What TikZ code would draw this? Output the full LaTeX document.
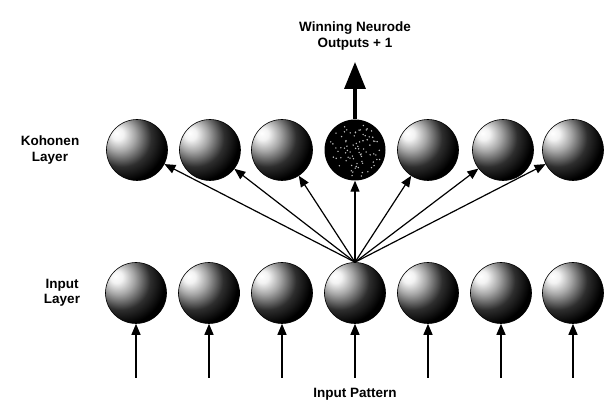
\documentclass[tikz,border=0pt]{standalone}
\usepackage{fontspec}
\setmainfont{Liberation Sans}
\usetikzlibrary{arrows.meta}
\pgfdeclareradialshading{spherefill}{\pgfpoint{-17bp}{14bp}}{color(0bp)=(white); color(5bp)=(white!95!black); color(13bp)=(black!35); color(24bp)=(black!82); color(34bp)=(black); color(90bp)=(black)}
\tikzset{
  neuro/.style={circle, minimum size=61pt, inner sep=0pt, shading=spherefill, draw=black, line width=0.6pt},
  winner/.style={circle, minimum size=61pt, inner sep=0pt, fill=black},
  lbl/.style={font=\fontsize{13.5}{15.5}\selectfont\bfseries, align=center},
  conn/.style={line width=1.2pt, -{Triangle[length=11pt,width=9pt]}},
  outarr/.style={line width=3.4pt, -{Triangle[length=27pt,width=21pt]}}
}
\begin{document}
\begin{tikzpicture}[x=1pt,y=1pt]
\useasboundingbox (0,0) rectangle (605,406);
% input layer
\foreach \i/\x in {1/136,2/209,3/282,4/355,5/428,6/501,7/573}{
  \node[neuro] (i\i) at (\x,113) {};
  \coordinate (s\i) at (\x,28);
  \draw[conn] (s\i) -- (i\i);
}
% kohonen layer
\foreach \i/\x in {1/137,2/210,3/282,5/428,6/503,7/573}{
  \node[neuro] (k\i) at (\x,256) {};
}
\node[winner] (k4) at (355,256) {};
\pgfmathsetseed{7}
\foreach \n in {1,...,80}{
  \pgfmathsetmacro\rr{27*sqrt(rnd)}
  \pgfmathsetmacro\aa{360*rnd}
  \fill[white!75!black] (k4) ++(\aa:\rr pt) circle (0.8pt);
}
\foreach \i in {1,2,3,4,5,6,7}{
  \draw[conn] (i4.north) -- (k\i);
}
% output arrow
\coordinate (outtip) at (355,344);
\draw[outarr] (k4.north) -- (outtip);
\node[lbl] (win) at (355,370) {Winning Neurode\\Outputs + 1};
\node[lbl] (klab) at (50,256) {Kohonen\\Layer};
\node[lbl] (ilab) at (62,113) {Input\\Layer};
\node[lbl] (ipat) at (355,12) {Input Pattern};
\end{tikzpicture}
\end{document}
